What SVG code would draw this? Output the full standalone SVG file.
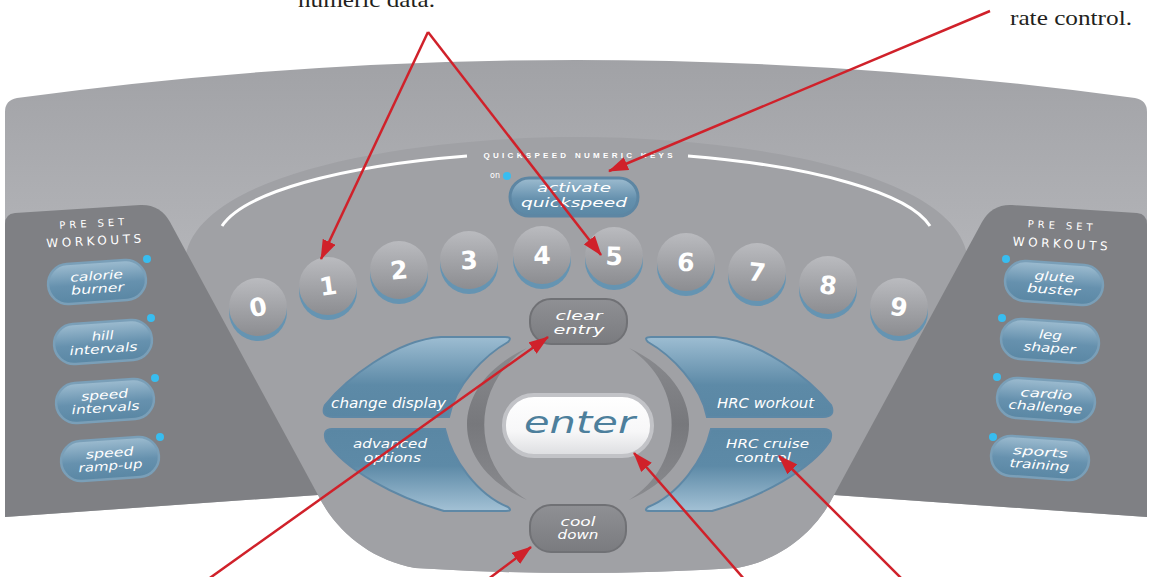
<svg xmlns="http://www.w3.org/2000/svg" width="1150" height="577" viewBox="0 0 1150 577">
<defs>
<style>
.lbl{font-family:"DejaVu Sans",sans-serif;font-style:oblique;fill:#fff;text-anchor:middle;}
.digit{font-family:"DejaVu Sans",sans-serif;font-weight:bold;font-size:25px;fill:#fff;text-anchor:middle;}
.hdr{font-family:"DejaVu Sans",sans-serif;fill:#fff;text-anchor:middle;}
.call{font-family:"Liberation Serif",serif;font-size:22px;fill:#231f20;}
.kface{fill:url(#keyG);}
.kshadow{fill:#6594b2;}
.preset{fill:url(#presetG);stroke:#7a9fb8;stroke-width:2.5;}
.dot{fill:#38bdf0;}
.wing{stroke:#5e88a6;stroke-width:2;}
.gbtn{fill:url(#grayG);stroke:#707175;stroke-width:2;}
.arrow{stroke:#d0212a;stroke-width:2.5;fill:none;marker-end:url(#ah);}
</style>
<linearGradient id="outerG" x1="0" y1="60" x2="0" y2="520" gradientUnits="userSpaceOnUse">
<stop offset="0" stop-color="#a1a2a6"/><stop offset="0.4" stop-color="#b2b3b7"/><stop offset="1" stop-color="#a9aaae"/>
</linearGradient>
<linearGradient id="keyG" x1="0" y1="0" x2="0" y2="1">
<stop offset="0" stop-color="#babbbf"/><stop offset="1" stop-color="#8c8d91"/>
</linearGradient>
<linearGradient id="presetG" x1="0" y1="0" x2="0" y2="1">
<stop offset="0" stop-color="#9dbcd0"/><stop offset="0.55" stop-color="#6691ae"/><stop offset="1" stop-color="#5a87a4"/>
</linearGradient>
<linearGradient id="wingUp" x1="0" y1="0" x2="0" y2="1">
<stop offset="0" stop-color="#9dbdd2"/><stop offset="0.6" stop-color="#5d8aa7"/><stop offset="1" stop-color="#5a87a4"/>
</linearGradient>
<linearGradient id="wingDn" x1="0" y1="0" x2="0" y2="1">
<stop offset="0" stop-color="#5a87a4"/><stop offset="0.45" stop-color="#5d8aa7"/><stop offset="1" stop-color="#a3c1d5"/>
</linearGradient>
<linearGradient id="grayG" x1="0" y1="0" x2="0" y2="1">
<stop offset="0" stop-color="#8f9094"/><stop offset="1" stop-color="#7a7b7f"/>
</linearGradient>
<linearGradient id="enterG" x1="0" y1="0" x2="0" y2="1">
<stop offset="0" stop-color="#ffffff"/><stop offset="0.6" stop-color="#f7f7f8"/><stop offset="1" stop-color="#dcdde0"/>
</linearGradient>
<linearGradient id="crescG" x1="0" y1="0" x2="0" y2="1">
<stop offset="0" stop-color="#8a8b8f"/><stop offset="0.5" stop-color="#77787c"/><stop offset="1" stop-color="#8a8b8f"/>
</linearGradient>
<marker id="ah" markerUnits="userSpaceOnUse" markerWidth="20" markerHeight="14" viewBox="0 0 20 14" refX="19" refY="7" orient="auto">
<path d="M0,0 L20,7 L0,14 Z" fill="#d0212a"/>
</marker>
</defs>

<g id="console">
<path d="M5,112 Q5,100 17,98 Q576,22 1135,98 Q1147,100 1147,112 L1147,517 L834,495 C817,530 782,560 737,568 Q577,578 415,568 C370,560 335,530 318,495 L5,517 Z" fill="url(#outerG)"/>
<path d="M185,260 C195,170 420,137 577,137 C735,137 960,170 968,260 L834,495 C817,530 782,560 737,568 Q577,578 415,568 C370,560 335,530 318,495 Z" fill="#a0a1a5"/>
<path d="M5,224 Q5,214 15,213 L140,205 Q160,204 170,222 L318,495 L5,517 Z" fill="#7f8084"/>
<path d="M1147,224 Q1147,214 1137,213 L1012,205 Q992,204 982,222 L834,495 L1147,517 Z" fill="#7f8084"/>
<path d="M222,226 A360,88 0 0 1 467,156" fill="none" stroke="#fff" stroke-width="3"/>
<path d="M688,156 A360,88 0 0 1 930,226" fill="none" stroke="#fff" stroke-width="3"/>
<text x="578" y="158" font-family="Liberation Sans, sans-serif" font-weight="bold" font-size="8" fill="#fff" text-anchor="middle" textLength="189" lengthAdjust="spacing">QUICKSPEED NUMERIC KEYS</text>
<path d="M527,348 C447,385 447,465 527,500 C470,465 470,385 527,348 Z" fill="url(#crescG)"/>
<path d="M629,348 C709,385 709,465 629,500 C686,465 686,385 629,348 Z" fill="url(#crescG)"/>
</g>

<g id="preset-left">
<text class="hdr" x="92" y="227" font-size="10" textLength="65" lengthAdjust="spacing" transform="rotate(-3 92 227)">PRE SET</text>
<text class="hdr" x="94" y="245" font-size="12" textLength="95" lengthAdjust="spacing" transform="rotate(-3 94 245)">WORKOUTS</text>
</g>
<g id="preset-right">
<text class="hdr" x="1060" y="229" font-size="10" textLength="65" lengthAdjust="spacing" transform="rotate(3 1060 229)">PRE SET</text>
<text class="hdr" x="1060" y="248" font-size="12" textLength="95" lengthAdjust="spacing" transform="rotate(3 1060 248)">WORKOUTS</text>
</g>

<g id="btn-calorie-burner" transform="translate(97,282) rotate(-4)">
<rect class="preset" x="-49" y="-20" width="98" height="40" rx="20"/>
<text class="lbl" y="-2" font-size="12" textLength="53" lengthAdjust="spacingAndGlyphs">calorie</text>
<text class="lbl" y="11" font-size="12" textLength="53" lengthAdjust="spacingAndGlyphs">burner</text>
</g>
<circle class="dot" cx="147" cy="259" r="4"/>
<g id="btn-hill-intervals" transform="translate(103,342) rotate(-4)">
<rect class="preset" x="-49" y="-20" width="98" height="40" rx="20"/>
<text class="lbl" y="-2" font-size="12" textLength="22" lengthAdjust="spacingAndGlyphs">hill</text>
<text class="lbl" y="11" font-size="12" textLength="68" lengthAdjust="spacingAndGlyphs">intervals</text>
</g>
<circle class="dot" cx="151" cy="318" r="4"/>
<g id="btn-speed-intervals" transform="translate(105,401) rotate(-4)">
<rect class="preset" x="-49" y="-20" width="98" height="40" rx="20"/>
<text class="lbl" y="-2" font-size="12" textLength="47" lengthAdjust="spacingAndGlyphs">speed</text>
<text class="lbl" y="11" font-size="12" textLength="68" lengthAdjust="spacingAndGlyphs">intervals</text>
</g>
<circle class="dot" cx="155" cy="378" r="4"/>
<g id="btn-speed-ramp-up" transform="translate(110,459) rotate(-4)">
<rect class="preset" x="-49" y="-20" width="98" height="40" rx="20"/>
<text class="lbl" y="-2" font-size="12" textLength="48" lengthAdjust="spacingAndGlyphs">speed</text>
<text class="lbl" y="11" font-size="12" textLength="64" lengthAdjust="spacingAndGlyphs">ramp-up</text>
</g>
<circle class="dot" cx="160" cy="437" r="4"/>

<g id="btn-glute-buster" transform="translate(1054,283) rotate(4)">
<rect class="preset" x="-49" y="-20" width="98" height="40" rx="20"/>
<text class="lbl" y="-2" font-size="12" textLength="40" lengthAdjust="spacingAndGlyphs">glute</text>
<text class="lbl" y="11" font-size="12" textLength="53" lengthAdjust="spacingAndGlyphs">buster</text>
</g>
<circle class="dot" cx="1006" cy="259" r="4"/>
<g id="btn-leg-shaper" transform="translate(1050,341) rotate(4)">
<rect class="preset" x="-49" y="-20" width="98" height="40" rx="20"/>
<text class="lbl" y="-2" font-size="12" textLength="23" lengthAdjust="spacingAndGlyphs">leg</text>
<text class="lbl" y="11" font-size="12" textLength="52" lengthAdjust="spacingAndGlyphs">shaper</text>
</g>
<circle class="dot" cx="1002" cy="318" r="4"/>
<g id="btn-cardio-challenge" transform="translate(1046,400) rotate(4)">
<rect class="preset" x="-49" y="-20" width="98" height="40" rx="20"/>
<text class="lbl" y="-2" font-size="12" textLength="52" lengthAdjust="spacingAndGlyphs">cardio</text>
<text class="lbl" y="11" font-size="12" textLength="74" lengthAdjust="spacingAndGlyphs">challenge</text>
</g>
<circle class="dot" cx="997" cy="377" r="4"/>
<g id="btn-sports-training" transform="translate(1040,458) rotate(4)">
<rect class="preset" x="-49" y="-20" width="98" height="40" rx="20"/>
<text class="lbl" y="-2" font-size="12" textLength="55" lengthAdjust="spacingAndGlyphs">sports</text>
<text class="lbl" y="11" font-size="12" textLength="60" lengthAdjust="spacingAndGlyphs">training</text>
</g>
<circle class="dot" cx="993" cy="437" r="4"/>

<g id="btn-activate-quickspeed">
<text x="490" y="178" font-family="DejaVu Sans, sans-serif" font-size="8" fill="#fff">on</text>
<circle class="dot" cx="507" cy="176" r="4"/>
<rect x="510" y="178" width="128" height="38" rx="19" fill="url(#presetG)" stroke="#5d86a3" stroke-width="3"/>
<text class="lbl" x="574" y="192" font-size="13" textLength="74" lengthAdjust="spacingAndGlyphs">activate</text>
<text class="lbl" x="574" y="207" font-size="13" textLength="106" lengthAdjust="spacingAndGlyphs">quickspeed</text>
</g>

<g id="key-0" transform="translate(258,307)"><circle class="kshadow" cy="5" r="29"/><circle class="kface" r="29"/><text class="digit" y="9" transform="rotate(-10)">0</text></g>
<g id="key-1" transform="translate(328,286)"><circle class="kshadow" cy="5" r="29"/><circle class="kface" r="29"/><text class="digit" y="9" transform="rotate(-8)">1</text></g>
<g id="key-2" transform="translate(399,270)"><circle class="kshadow" cy="5" r="29"/><circle class="kface" r="29"/><text class="digit" y="9" transform="rotate(-6)">2</text></g>
<g id="key-3" transform="translate(469,260)"><circle class="kshadow" cy="5" r="29"/><circle class="kface" r="29"/><text class="digit" y="9" transform="rotate(-3)">3</text></g>
<g id="key-4" transform="translate(542,255)"><circle class="kshadow" cy="5" r="29"/><circle class="kface" r="29"/><text class="digit" y="9" transform="rotate(-1)">4</text></g>
<g id="key-5" transform="translate(614,256)"><circle class="kshadow" cy="5" r="29"/><circle class="kface" r="29"/><text class="digit" y="9" transform="rotate(1)">5</text></g>
<g id="key-6" transform="translate(686,262)"><circle class="kshadow" cy="5" r="29"/><circle class="kface" r="29"/><text class="digit" y="9" transform="rotate(3)">6</text></g>
<g id="key-7" transform="translate(757,272)"><circle class="kshadow" cy="5" r="29"/><circle class="kface" r="29"/><text class="digit" y="9" transform="rotate(6)">7</text></g>
<g id="key-8" transform="translate(828,285)"><circle class="kshadow" cy="5" r="29"/><circle class="kface" r="29"/><text class="digit" y="9" transform="rotate(8)">8</text></g>
<g id="key-9" transform="translate(899,307)"><circle class="kshadow" cy="5" r="29"/><circle class="kface" r="29"/><text class="digit" y="9" transform="rotate(10)">9</text></g>

<g id="btn-clear-entry">
<rect class="gbtn" x="530" y="299" width="97" height="45" rx="21"/>
<text class="lbl" x="579" y="320" font-size="12" textLength="47" lengthAdjust="spacingAndGlyphs">clear</text>
<text class="lbl" x="579" y="334" font-size="12" textLength="51" lengthAdjust="spacingAndGlyphs">entry</text>
</g>
<g id="btn-cool-down">
<rect class="gbtn" x="530" y="505" width="96" height="47" rx="21"/>
<text class="lbl" x="578" y="526" font-size="12" textLength="35" lengthAdjust="spacingAndGlyphs">cool</text>
<text class="lbl" x="578" y="539" font-size="12" textLength="41" lengthAdjust="spacingAndGlyphs">down</text>
</g>
<g id="btn-enter">
<rect x="504" y="395" width="148" height="61" rx="30" fill="url(#enterG)" stroke="#c2c3c7" stroke-width="4"/>
<text x="579.5" y="433" font-family="DejaVu Sans, sans-serif" font-style="oblique" font-size="30" fill="#4d7f9c" text-anchor="middle" textLength="111" lengthAdjust="spacingAndGlyphs">enter</text>
</g>
<g id="btn-change-display">
<path class="wing" fill="url(#wingUp)" d="M441,337 L505,337 Q513,337 508,342 C485,355 455,385 449,417 L333,417 Q320,417 325,405 C345,380 395,340 441,337 Z"/>
<text class="lbl" x="388.5" y="408" font-size="14" textLength="115" lengthAdjust="spacingAndGlyphs">change display</text>
</g>
<g id="btn-advanced-options">
<path class="wing" fill="url(#wingDn)" d="M332,429 L445,429 C452,460 478,495 508,507 Q513,511 506,511 L444,511 C395,497 345,470 326,441 Q322,429 332,429 Z"/>
<text class="lbl" x="390" y="448" font-size="13" textLength="74" lengthAdjust="spacingAndGlyphs">advanced</text>
<text class="lbl" x="392.5" y="462" font-size="13" textLength="57" lengthAdjust="spacingAndGlyphs">options</text>
</g>
<g id="btn-hrc-workout">
<path class="wing" fill="url(#wingUp)" transform="translate(1156,0) scale(-1,1)" d="M441,337 L505,337 Q513,337 508,342 C485,355 455,385 449,417 L333,417 Q320,417 325,405 C345,380 395,340 441,337 Z"/>
<text class="lbl" x="765.5" y="408" font-size="14" textLength="97" lengthAdjust="spacingAndGlyphs">HRC workout</text>
</g>
<g id="btn-hrc-cruise-control">
<path class="wing" fill="url(#wingDn)" transform="translate(1156,0) scale(-1,1)" d="M332,429 L445,429 C452,460 478,495 508,507 Q513,511 506,511 L444,511 C395,497 345,470 326,441 Q322,429 332,429 Z"/>
<text class="lbl" x="767.5" y="448" font-size="13" textLength="83" lengthAdjust="spacingAndGlyphs">HRC cruise</text>
<text class="lbl" x="763" y="462" font-size="13" textLength="56" lengthAdjust="spacingAndGlyphs">control</text>
</g>

<g id="callout-texts">
<text class="call" x="298" y="7" textLength="137" lengthAdjust="spacingAndGlyphs">numeric data.</text>
<text class="call" x="1010" y="25" textLength="122" lengthAdjust="spacingAndGlyphs">rate control.</text>
<text class="call" x="837" y="592">Ent</text>
</g>

<g id="connectors">
<line class="arrow" x1="428" y1="32" x2="321" y2="259"/>
<line class="arrow" x1="428" y1="32" x2="601" y2="255"/>
<line class="arrow" x1="990" y1="11" x2="609" y2="171"/>
<line class="arrow" x1="207" y1="580" x2="548" y2="337"/>
<line class="arrow" x1="487" y1="580" x2="531" y2="547"/>
<line class="arrow" x1="745" y1="580" x2="634" y2="453"/>
<line class="arrow" x1="903" y1="580" x2="779" y2="456"/>
</g>
</svg>
